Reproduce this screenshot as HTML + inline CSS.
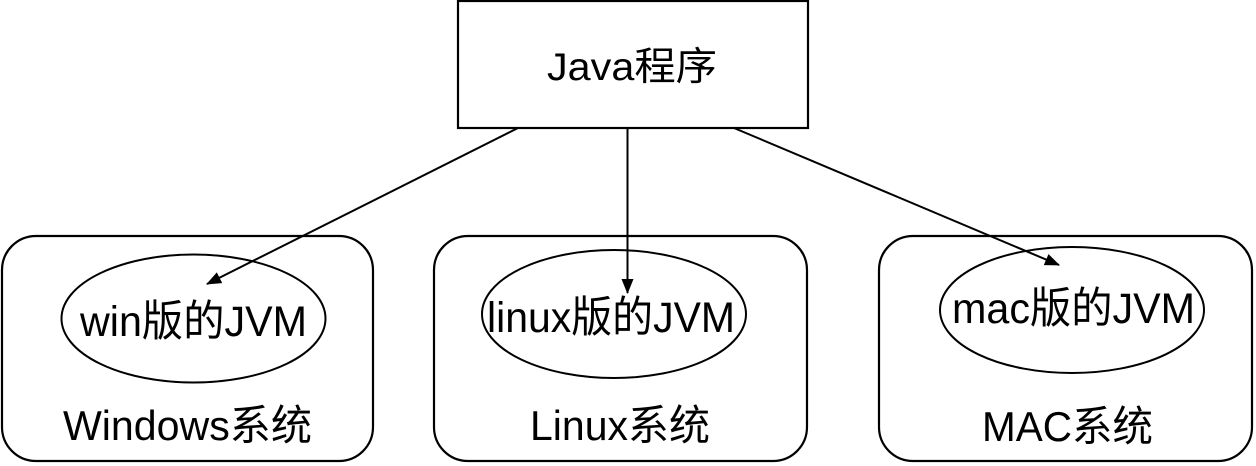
<!DOCTYPE html>
<html><head><meta charset="utf-8"><style>
html,body{margin:0;padding:0;background:#fff;}
svg{display:block;}
text{font-family:"Liberation Sans","Noto Sans CJK SC","WenQuanYi Zen Hei",sans-serif;fill:#000;}
</style></head><body>
<svg width="1256" height="466" viewBox="0 0 1256 466" xmlns="http://www.w3.org/2000/svg">
<defs>
<marker id="ah" markerWidth="15" markerHeight="12" refX="14" refY="6" orient="auto" markerUnits="userSpaceOnUse">
<path d="M0,0 L15,6 L0,12 Z" fill="#000"/>
</marker>
</defs>
<rect x="458" y="1" width="350" height="127" fill="#fff" stroke="#000" stroke-width="2.2"/>
<text x="547" y="80" font-size="39" textLength="170" lengthAdjust="spacingAndGlyphs">Java程序</text>

<rect x="2" y="236" width="371" height="225" rx="34" ry="34" fill="none" stroke="#000" stroke-width="2.2"/>
<rect x="434" y="236" width="373" height="225" rx="34" ry="34" fill="none" stroke="#000" stroke-width="2.2"/>
<rect x="879" y="236" width="373" height="225" rx="34" ry="34" fill="none" stroke="#000" stroke-width="2.2"/>

<ellipse cx="193.5" cy="318.5" rx="132" ry="64" fill="none" stroke="#000" stroke-width="2"/>
<ellipse cx="614" cy="314" rx="132" ry="64" fill="none" stroke="#000" stroke-width="2"/>
<ellipse cx="1072" cy="310" rx="132" ry="63" fill="none" stroke="#000" stroke-width="2"/>

<text x="80" y="336" font-size="43" textLength="227" lengthAdjust="spacingAndGlyphs">win版的JVM</text>
<text x="487" y="332" font-size="43" textLength="248" lengthAdjust="spacingAndGlyphs">linux版的JVM</text>
<text x="952" y="323" font-size="43" textLength="243" lengthAdjust="spacingAndGlyphs">mac版的JVM</text>

<text x="63" y="440" font-size="42" textLength="249" lengthAdjust="spacingAndGlyphs">Windows系统</text>
<text x="530" y="440" font-size="42" textLength="180" lengthAdjust="spacingAndGlyphs">Linux系统</text>
<text x="982" y="441" font-size="42" textLength="171" lengthAdjust="spacingAndGlyphs">MAC系统</text>

<line x1="518" y1="128" x2="207" y2="284" stroke="#000" stroke-width="2" marker-end="url(#ah)"/>
<line x1="627.5" y1="128" x2="627.5" y2="293" stroke="#000" stroke-width="2" marker-end="url(#ah)"/>
<line x1="734" y1="128" x2="1059" y2="265" stroke="#000" stroke-width="2" marker-end="url(#ah)"/>
</svg>
</body></html>
